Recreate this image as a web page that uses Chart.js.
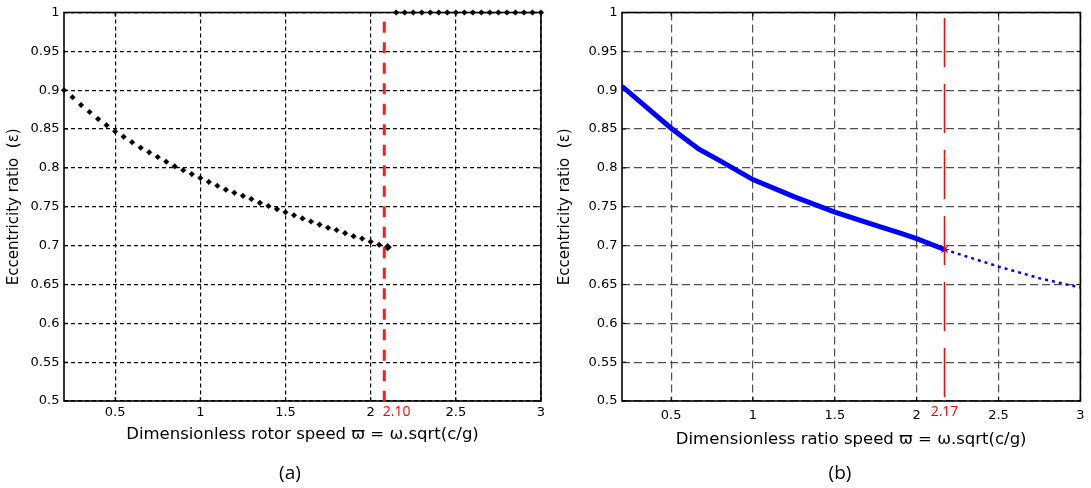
<!DOCTYPE html>
<html>
<head>
<meta charset="utf-8">
<script src="https://cdn.jsdelivr.net/npm/chart.js"></script>
<style>
body { margin: 0; background: #fff; width: 1091px; height: 488px; overflow: hidden; position: relative; }
canvas { position: absolute; top: 0; }
#chartA { left: 0; }
#chartB { left: 550px; }
.cap { position: absolute; top: 472px; font-family: "Open Sans"; font-size: 19px; color: #000; transform: translate(-50%, -50%); }
</style>
</head>
<body>
<canvas id="chartA" width="550" height="488"></canvas>
<canvas id="chartB" width="541" height="488"></canvas>
<div class="cap" style="left:290px">(a)</div>
<div class="cap" style="left:840px">(b)</div>
<script>
// (a) stable branch, black diamonds
var speedA = [0.2, 0.25, 0.3, 0.35, 0.4, 0.45, 0.5, 0.55, 0.6, 0.65, 0.7, 0.75, 0.8, 0.85, 0.9, 0.95, 1.0, 1.05, 1.1, 1.15,
              1.2, 1.25, 1.3, 1.35, 1.4, 1.45, 1.5, 1.55, 1.6, 1.65, 1.7, 1.75, 1.8, 1.85, 1.9, 1.95, 2.0, 2.05, 2.1];
var eccA = [0.900, 0.891, 0.881, 0.872, 0.863, 0.855, 0.847, 0.840, 0.833, 0.826, 0.820, 0.814, 0.808, 0.802, 0.797, 0.792, 0.787, 0.782, 0.777, 0.772,
            0.768, 0.764, 0.760, 0.755, 0.751, 0.747, 0.743, 0.739, 0.735, 0.731, 0.727, 0.723, 0.720, 0.716, 0.712, 0.709, 0.705, 0.701, 0.698];
// (a) after the jump, eccentricity stuck at 1
var speedA2 = [2.15, 2.2, 2.25, 2.3, 2.35, 2.4, 2.45, 2.5, 2.55, 2.6, 2.65, 2.7, 2.75, 2.8, 2.85, 2.9, 2.95, 3.0];
var eccA2 = [1, 1, 1, 1, 1, 1, 1, 1, 1, 1, 1, 1, 1, 1, 1, 1, 1, 1];
var critA = 2.08;
var critLabelA = "2.10";

// (b) solid blue curve and dotted continuation
var speedB = [0.2, 0.5, 0.67, 0.8, 1.0, 1.25, 1.5, 1.75, 1.9, 2.0, 2.17];
var eccB = [0.905, 0.851, 0.824, 0.809, 0.785, 0.763, 0.743, 0.726, 0.716, 0.709, 0.695];
var speedB2 = [2.17, 2.5, 2.75, 3.0];
var eccB2 = [0.695, 0.673, 0.658, 0.646];
var critB = 2.17;
var critLabelB = "2.17";

var xTicks = [0.5, 1, 1.5, 2, 2.5, 3];
var xTickLabels = ["0.5", "1", "1.5", "2", "2.5", "3"];
var yTicks = [0.5, 0.55, 0.6, 0.65, 0.7, 0.75, 0.8, 0.85, 0.9, 0.95, 1];
var yTickLabels = ["0.5", "0.55", "0.6", "0.65", "0.7", "0.75", "0.8", "0.85", "0.9", "0.95", "1"];

var yTitle = "Eccentricity ratio  (\u03b5)";
var xTitleA = "Dimensionless rotor speed \u03d6 = \u03c9.sqrt(c/g)";
var xTitleB = "Dimensionless ratio speed \u03d6 = \u03c9.sqrt(c/g)";

Chart.defaults.font.family = "DejaVu Sans";
Chart.defaults.color = "#000";

function pts(xs, ys) {
    var out = [];
    for (var i = 0; i < xs.length; i++) {
        out.push({ x: xs[i], y: ys[i] });
    }
    return out;
}

// box round the plot plus small inward ticks, like matlab
function framePlugin() {
    return {
        id: "frame",
        beforeDatasetsDraw: function (chart) {
            var a = chart.chartArea, ctx = chart.ctx;
            var sx = chart.scales.x, sy = chart.scales.y;
            ctx.save();
            ctx.strokeStyle = "#000";
            ctx.lineWidth = 1;
            ctx.beginPath();
            sx.ticks.forEach(function (t) {
                var px = sx.getPixelForValue(t.value);
                ctx.moveTo(px, a.bottom); ctx.lineTo(px, a.bottom - 4);
                ctx.moveTo(px, a.top); ctx.lineTo(px, a.top + 4);
            });
            sy.ticks.forEach(function (t) {
                var py = sy.getPixelForValue(t.value);
                ctx.moveTo(a.left, py); ctx.lineTo(a.left + 4, py);
                ctx.moveTo(a.right, py); ctx.lineTo(a.right - 4, py);
            });
            ctx.stroke();
            ctx.lineWidth = 1.6;
            ctx.strokeRect(a.left, a.top, a.right - a.left, a.bottom - a.top);
            ctx.restore();
        }
    };
}

function markPlugin(value, text, align, dx, y) {
    return {
        id: "mark",
        afterDraw: function (chart) {
            var x = chart.scales.x.getPixelForValue(value);
            var ctx = chart.ctx;
            ctx.save();
            ctx.fillStyle = "#ff0000";
            ctx.font = '14px "Open Sans"';
            ctx.textAlign = align;
            ctx.textBaseline = "middle";
            ctx.fillText(text, x + dx, y);
            ctx.restore();
        }
    };
}

function makeOptions(o) {
    return {
        responsive: false,
        animation: false,
        devicePixelRatio: 1,
        layout: { padding: { left: 0, right: o.padRight, top: 12.5, bottom: 0 } },
        plugins: { legend: { display: false }, tooltip: { enabled: false } },
        scales: {
            x: {
                type: "linear",
                min: 0.2,
                max: 3,
                afterBuildTicks: function (scale) {
                    scale.ticks = xTicks.map(function (v) { return { value: v }; });
                },
                afterFit: function (scale) { scale.height = 87; },
                ticks: {
                    padding: o.xTickPad,
                    font: { size: 13 },
                    maxRotation: 0,
                    callback: function (v, i) { return xTickLabels[i]; }
                },
                grid: { color: o.gridColor, lineWidth: 1.2, drawTicks: false },
                border: { display: false, dash: o.gridDash },
                title: { display: true, text: o.xTitle, font: { size: 16.5 }, padding: { top: 0, bottom: o.xTitlePad } }
            },
            y: {
                type: "linear",
                min: 0.5,
                max: 1,
                afterBuildTicks: function (scale) {
                    scale.ticks = yTicks.map(function (v) { return { value: v }; });
                },
                afterFit: function (scale) { scale.width = o.yWidth; },
                ticks: {
                    padding: 4.5,
                    font: { size: 13 },
                    callback: function (v, i) { return yTickLabels[i]; }
                },
                grid: { color: o.gridColor, lineWidth: 1.2, drawTicks: false },
                border: { display: false, dash: o.gridDash },
                title: { display: true, text: yTitle, font: { size: 15 }, padding: { top: o.yTitlePad, bottom: 0 } }
            }
        }
    };
}

// chart (a)
var optsA = makeOptions({ padRight: 9, yWidth: 64, gridColor: "#000", gridDash: [4, 3], xTickPad: 3.5, xTitlePad: 43, yTitlePad: 5.6, xTitle: xTitleA });
var chartA = new Chart(document.getElementById("chartA").getContext("2d"), {
    type: "scatter",
    data: {
        datasets: [{
            data: [{ x: critA, y: 0.988 }, { x: critA, y: 0.492 }],
            showLine: true,
            clip: false,
            borderColor: "#ff1a1a",
            borderWidth: 3,
            borderDash: [11, 9.5],
            pointRadius: 0
        }, {
            data: pts(speedA, eccA),
            clip: false,
            pointStyle: "rectRot",
            pointRadius: function (c) { return c.dataIndex === speedA.length - 1 ? 3.8 : 2.8; },
            backgroundColor: "#000",
            borderColor: "#000",
            borderWidth: 0.5
        }, {
            data: pts(speedA2, eccA2),
            clip: false,
            pointStyle: "rectRot",
            pointRadius: 2.8,
            backgroundColor: "#000",
            borderColor: "#000",
            borderWidth: 0.5
        }]
    },
    options: optsA,
    plugins: [framePlugin(), markPlugin(critA, critLabelA, "left", -1.5, 412)]
});

// chart (b)
var optsB = makeOptions({ padRight: 7, yWidth: 72, gridColor: "#505050", gridDash: [8, 4], xTickPad: 6.5, xTitlePad: 38, yTitlePad: 6.4, xTitle: xTitleB });
var chartB = new Chart(document.getElementById("chartB").getContext("2d"), {
    type: "scatter",
    data: {
        datasets: [{
            data: [{ x: critB, y: 0.993 }, { x: critB, y: 0.5 }],
            showLine: true,
            borderColor: "#ff0000",
            borderWidth: 1.5,
            borderDash: [49, 17],
            pointRadius: 0
        }, {
            data: pts(speedB, eccB),
            showLine: true,
            borderColor: "#0000ff",
            borderWidth: 5,
            pointRadius: 0
        }, {
            data: pts(speedB2, eccB2),
            showLine: true,
            borderColor: "#0000ff",
            borderWidth: 2.5,
            borderDash: [3, 4],
            pointRadius: 0
        }, {
            data: [{ x: critB, y: eccB[eccB.length - 1] }],
            pointStyle: "star",
            pointRadius: 4.5,
            borderColor: "#ff0000",
            borderWidth: 1.2
        }]
    },
    options: optsB,
    plugins: [framePlugin(), markPlugin(critB, critLabelB, "center", 0, 412.5)]
});
</script>
</body>
</html>
